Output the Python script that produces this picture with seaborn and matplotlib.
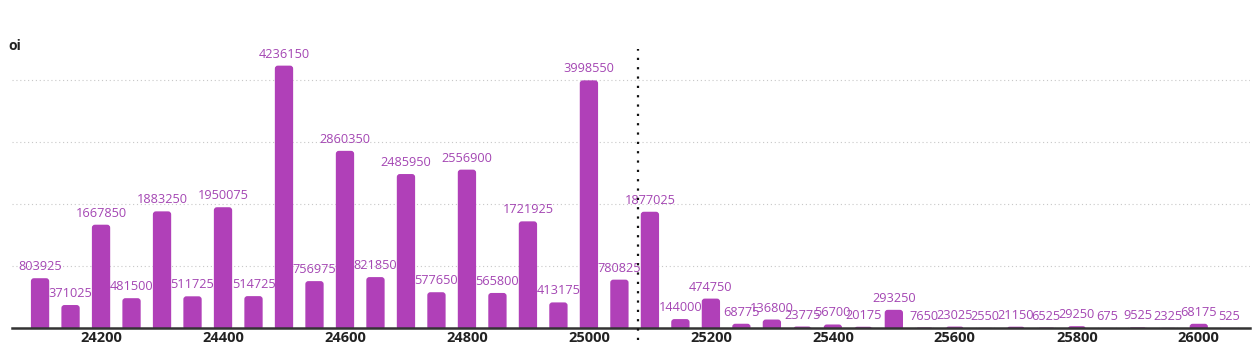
import matplotlib
matplotlib.use("Agg")
import matplotlib.pyplot as plt
import seaborn as sns
import pandas as pd
from matplotlib.patches import FancyBboxPatch

# Open interest per strike
strikes = list(range(24100, 26051, 50))
oi = [
    803925, 371025, 1667850, 481500, 1883250, 511725, 1950075, 514725,
    4236150, 756975, 2860350, 821850, 2485950, 577650, 2556900, 565800,
    1721925, 413175, 3998550, 780825, 1877025, 144000, 474750, 68775,
    136800, 23775, 56700, 20175, 293250, 7650, 23025, 2550,
    21150, 6525, 29250, 675, 9525, 2325, 68175, 525,
]
spot = 25080
tick_strikes = [24200, 24400, 24600, 24800, 25000, 25200, 25400, 25600, 25800, 26000]

df = pd.DataFrame({"strike": strikes, "oi": oi})

sns.set_theme(style="white")
plt.rcParams["font.family"] = ["Open Sans", "DejaVu Sans"]

bar_color = "#b040b8"
label_color = "#a446b3"

fig = plt.figure(figsize=(12.58, 3.52), dpi=100)
ax = fig.add_axes([12 / 1258, 24 / 352, 1238 / 1258, 288 / 352])

sns.barplot(data=df, x="strike", y="oi", native_scale=True, width=0.6,
            color=bar_color, saturation=1, ax=ax)

ax.set_xlim(24054, 26084)
ax.set_ylim(0, 4650000)

# swap plain rectangles for bars with rounded tops
x_per_px = 50 / 30.25
y_per_px = 1000000 / 62
for p in list(ax.patches):
    x, w, h = p.get_x(), p.get_width(), p.get_height()
    rb = FancyBboxPatch((x, -30000), w, h + 30000,
                        boxstyle="round,pad=0,rounding_size=%f" % (3 * x_per_px),
                        mutation_aspect=y_per_px / x_per_px,
                        facecolor=bar_color, edgecolor="none", zorder=2)
    p.remove()
    ax.add_patch(rb)

# value labels on top of bars
for s, v in zip(strikes, oi):
    ax.text(s, v + 5 * y_per_px, str(v), ha="center", va="bottom",
            fontsize=9.2, color=label_color, zorder=3)

# dotted grid lines
for g in [1000000, 2000000, 3000000, 4000000]:
    ax.axhline(g, color="#c8c8c8", lw=0.8, ls=(0, (1, 2.5)), zorder=0)

# spot price marker
ax.axvline(spot, ymin=-0.04, ymax=0.97, color="#111111", lw=1.6,
           ls=(0, (1, 3.2)), clip_on=False, zorder=4)

for side in ["top", "right", "left"]:
    ax.spines[side].set_visible(False)
ax.spines["bottom"].set_color("#333333")
ax.spines["bottom"].set_linewidth(1.8)

ax.set_yticks([])
ax.set_xticks(tick_strikes)
ax.set_xticklabels([str(t) for t in tick_strikes], fontsize=10.5,
                   fontweight="bold", color="#222222")
ax.tick_params(axis="x", length=0, pad=2)
ax.set_xlabel("")
ax.set_ylabel("")

fig.text(8 / 1258, 1 - 46 / 352, "oi", fontsize=10, fontweight="bold",
         color="#222222", va="center", ha="left")

fig.savefig("out.png", dpi=100)
